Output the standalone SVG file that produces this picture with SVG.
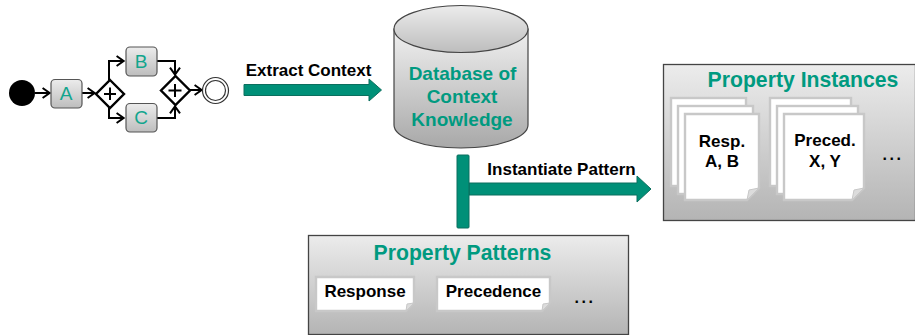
<svg xmlns="http://www.w3.org/2000/svg" width="915" height="335" viewBox="0 0 915 335">
<style>
text{font-family:"Liberation Sans",Arial,sans-serif;font-weight:bold;text-anchor:middle}
.g{fill:#009a80}
.k{fill:#000}
.t{font-weight:normal;fill:#12a58d;font-size:19px}
.d{font-size:16px;letter-spacing:2.6px}
.box{fill:url(#gb);stroke:#444;stroke-width:1.3}
.task{fill:url(#gt);stroke:#555;stroke-width:1.2}
.page{fill:#fff;stroke:#c8c8c8;stroke-width:2.4}
.fold{fill:#dcdcdc;stroke:#c8c8c8;stroke-width:1}
.line{fill:none;stroke:#000;stroke-width:2}
.gw{fill:#fff;stroke:#000;stroke-width:2.4}
.bar{fill:#009078;stroke:#0b6f5e;stroke-width:1}
</style>
<defs>
<linearGradient id="gb" x1="0" y1="0" x2="0" y2="1"><stop offset="0" stop-color="#ececec"/><stop offset="1" stop-color="#b4b4b4"/></linearGradient>
<linearGradient id="gt" x1="0" y1="0" x2="0" y2="1"><stop offset="0" stop-color="#ececec"/><stop offset="1" stop-color="#bdbdbd"/></linearGradient>
<linearGradient id="gc" x1="0" y1="0" x2="0" y2="1"><stop offset="0" stop-color="#f0f0f0"/><stop offset="1" stop-color="#a8a8a8"/></linearGradient>
<marker id="oa" viewBox="0 0 9 12" refX="8.4" refY="6" markerWidth="9" markerHeight="12" markerUnits="userSpaceOnUse" orient="auto"><path d="M1 1L8 6L1 11" fill="none" stroke="#000" stroke-width="2"/></marker>
</defs>
<g id="connectors">
<path class="line" marker-end="url(#oa)" d="M35 93H50"/>
<path class="line" marker-end="url(#oa)" d="M82 93H95"/>
<path class="line" marker-end="url(#oa)" d="M109 80V61H124"/>
<path class="line" marker-end="url(#oa)" d="M109 107V118H124"/>
<path class="line" marker-end="url(#oa)" d="M157 61H175V75"/>
<path class="line" marker-end="url(#oa)" d="M157 118H175V106"/>
<path class="line" marker-end="url(#oa)" d="M190 90H202"/>
<path id="extract-arrow" class="bar" d="M244 84.500H369V79L381.500 90L369 101V95.500H244Z"/>
<path id="instantiate-arrow" class="bar" d="M469 183H637V176L651 189L637 202V195H469Z"/>
<rect class="bar" x="457" y="155" width="12" height="73" rx="1"/>
</g>
<g id="start"><circle cx="22" cy="93" r="13" fill="#000"/></g>
<g id="task-a"><rect class="task" x="51" y="79.500" width="31" height="28.500" rx="4"/><text class="t" x="66" y="100">A</text></g>
<g id="task-b"><rect class="task" x="126" y="47" width="31" height="29" rx="4"/><text class="t" x="141" y="68">B</text></g>
<g id="task-c"><rect class="task" x="126" y="103.500" width="31" height="28.500" rx="4"/><text class="t" x="141" y="124">C</text></g>
<g id="gateway-split"><path class="gw" d="M110 80L124 94L110 108L96 94Z"/><path class="line" d="M110 87.500V100M104 94H116"/></g>
<g id="gateway-join"><path class="gw" d="M175.500 76L190 90.500L175.500 105L161 90.500Z"/><path class="line" d="M175 84V97M168.500 90.500H181.500"/></g>
<g id="end"><circle cx="215.500" cy="90.500" r="13" fill="#fff" stroke="#333" stroke-width="1.2"/><circle cx="215.500" cy="90.500" r="10" fill="#fff" stroke="#333" stroke-width="1.2"/></g>
<g id="label-extract"><text class="k" x="308.500" y="76" font-size="17">Extract Context</text></g>
<g id="database">
<path d="M394 29V125C394 137 422 148 461 148C500 148 528 137 528 125V29Z" fill="url(#gc)" stroke="#444" stroke-width="1.2"/>
<ellipse cx="461" cy="29" rx="67" ry="23.500" fill="url(#gt)" stroke="#444" stroke-width="1.2"/>
<text class="g" x="462.500" y="80" font-size="19">Database of</text>
<text class="g" x="462" y="103" font-size="19">Context</text>
<text class="g" x="462" y="126" font-size="19">Knowledge</text>
</g>
<g id="label-instantiate"><text class="k" x="561.500" y="175" font-size="17">Instantiate Pattern</text></g>
<g id="property-instances">
<rect class="box" x="663.500" y="64.500" width="252" height="156"/>
<text class="g" x="803" y="87" font-size="21.200">Property Instances</text>
<rect class="page" x="671" y="98" width="75" height="88"/>
<rect class="page" x="678" y="106" width="75" height="88"/>
<path class="page" d="M685 114H759V188L747 200H685Z"/><path class="fold" d="M747 200L749 190L759 188Z"/>
<text class="k" x="722" y="147" font-size="17">Resp.</text>
<text class="k" x="722" y="167" font-size="17">A, B</text>
<rect class="page" x="770" y="98" width="81" height="88"/>
<rect class="page" x="777" y="106" width="81" height="88"/>
<path class="page" d="M784 114H864V188L852 200H784Z"/><path class="fold" d="M852 200L854 190L864 188Z"/>
<text class="k" x="825" y="146" font-size="17">Preced.</text>
<text class="k" x="825" y="167" font-size="17">X, Y</text>
<text class="k d" x="893" y="160">...</text>
</g>
<g id="property-patterns">
<rect class="box" x="308.500" y="235.500" width="320" height="99"/>
<text class="g" x="462.500" y="260" font-size="21.200">Property Patterns</text>
<path class="page" d="M316 277H414V303L406 311H316Z"/><path class="fold" d="M406 311L407 304L414 303Z"/>
<text class="k" x="365" y="297" font-size="17">Response</text>
<path class="page" d="M437 277H550V303L542 311H437Z"/><path class="fold" d="M542 311L543 304L550 303Z"/>
<text class="k" x="493.500" y="297" font-size="17">Precedence</text>
<text class="k d" x="585" y="303">...</text>
</g>
</svg>
